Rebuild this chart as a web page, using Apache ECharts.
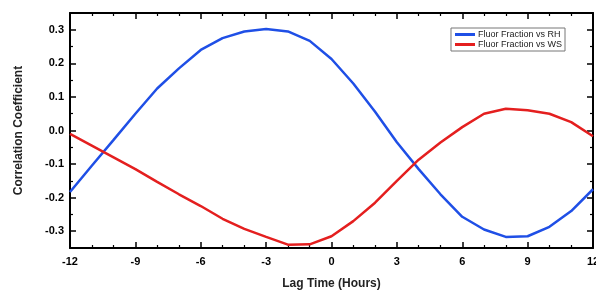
<!DOCTYPE html>
<html>
<head>
<meta charset="utf-8">
<script src="https://cdn.jsdelivr.net/npm/echarts@6/dist/echarts.min.js"></script>
<style>
  html, body { margin: 0; padding: 0; background: #fff; }
  #chart { width: 596px; height: 291px; }
</style>
</head>
<body>
<div id="chart"></div>
<script>
// Lag time, hours
const lagHours = [-12, -11, -10, -9, -8, -7, -6, -5, -4, -3, -2, -1, 0, 1, 2, 3, 4, 5, 6, 7, 8, 9, 10, 11, 12]

// Correlation coefficients
const fluorVsRH = [-0.183, -0.105, -0.028, 0.05, 0.125, 0.185, 0.24, 0.275, 0.295, 0.302, 0.295, 0.267, 0.213, 0.14, 0.056, -0.035, -0.115, -0.19, -0.257, -0.295, -0.317, -0.315, -0.287, -0.24, -0.175]
const fluorVsWS = [-0.01, -0.045, -0.08, -0.115, -0.153, -0.19, -0.225, -0.263, -0.293, -0.317, -0.34, -0.339, -0.315, -0.27, -0.215, -0.15, -0.087, -0.036, 0.01, 0.05, 0.065, 0.06, 0.05, 0.025, -0.017]

const yMajor = [-0.3, -0.2, -0.1, 0.0, 0.1, 0.2, 0.3]
const yMinor = [-0.25, -0.15, -0.05, 0.05, 0.15, 0.25]

const seriesNames = ['Fluor Fraction vs RH', 'Fluor Fraction vs WS']
const seriesColors = ['#1f4fe6', '#e41f1f']

const FONT = 'Liberation Sans, Arial, sans-serif'
const lineBlack = { show: true, onZero: false, lineStyle: { color: '#000', width: 2 } }

const xBase = {
  type: 'value',
  min: -12,
  max: 12,
  interval: 3,
  axisLine: lineBlack,
  axisTick: { show: true, inside: true, length: 6, lineStyle: { color: '#000', width: 1.5 } },
  minorTick: { show: true, splitNumber: 3, length: 3, lineStyle: { color: '#000', width: 1.2 } },
  splitLine: { show: false },
  minorSplitLine: { show: false }
}

const yMajorAxis = (pos, labels) => ({
  type: 'value',
  position: pos,
  min: -0.35,
  max: 0.35,
  axisLine: lineBlack,
  axisTick: { show: true, inside: true, length: 6, customValues: yMajor, lineStyle: { color: '#000', width: 1.5 } },
  axisLabel: labels ? {
    show: true,
    customValues: yMajor,
    formatter: v => v.toFixed(1),
    fontFamily: FONT,
    fontWeight: 'bold',
    fontSize: 11,
    color: '#000',
    margin: 6
  } : { show: false },
  splitLine: { show: false }
})

const yMinorAxis = (pos) => ({
  type: 'value',
  position: pos,
  min: -0.35,
  max: 0.35,
  axisLine: { show: false, onZero: false },
  axisTick: { show: true, inside: true, length: 3, customValues: yMinor, lineStyle: { color: '#000', width: 1.2 } },
  axisLabel: { show: false },
  splitLine: { show: false }
})

const chart = echarts.init(document.getElementById('chart'))

chart.setOption({
  animation: false,
  backgroundColor: '#fff',
  grid: { left: 70, right: 3, top: 13, bottom: 43, outerBoundsMode: 'none', containLabel: false },
  legend: {
    data: seriesNames,
    orient: 'vertical',
    right: 31,
    top: 28,
    itemWidth: 20,
    itemHeight: 3,
    itemGap: 1,
    icon: 'rect',
    padding: [2, 3, 2, 4],
    borderColor: '#777',
    borderWidth: 1,
    textStyle: { fontFamily: FONT, fontSize: 9, color: '#222', padding: [0, 0, 0, -2] }
  },
  xAxis: [
    Object.assign({}, xBase, {
      position: 'bottom',
      name: 'Lag Time (Hours)',
      nameLocation: 'middle',
      nameGap: 30,
      nameTextStyle: { fontFamily: FONT, fontWeight: 'bold', fontSize: 12, color: '#222' },
      axisLabel: { fontFamily: FONT, fontWeight: 'bold', fontSize: 11, color: '#000', margin: 8 }
    }),
    Object.assign({}, xBase, { position: 'top', axisLabel: { show: false } })
  ],
  yAxis: [
    Object.assign(yMajorAxis('left', true), {
      name: 'Correlation Coefficient',
      nameLocation: 'middle',
      nameGap: 45,
      nameTextStyle: { fontFamily: FONT, fontWeight: 'bold', fontSize: 12, color: '#222' }
    }),
    yMinorAxis('left'),
    yMajorAxis('right', false),
    yMinorAxis('right')
  ],
  series: [
    {
      name: seriesNames[0],
      type: 'line',
      data: lagHours.map((h, i) => [h, fluorVsRH[i]]),
      symbol: 'none',
      color: seriesColors[0],
      lineStyle: { color: seriesColors[0], width: 2.5 }
    },
    {
      name: seriesNames[1],
      type: 'line',
      data: lagHours.map((h, i) => [h, fluorVsWS[i]]),
      symbol: 'none',
      color: seriesColors[1],
      lineStyle: { color: seriesColors[1], width: 2.5 }
    }
  ]
})
</script>
</body>
</html>
